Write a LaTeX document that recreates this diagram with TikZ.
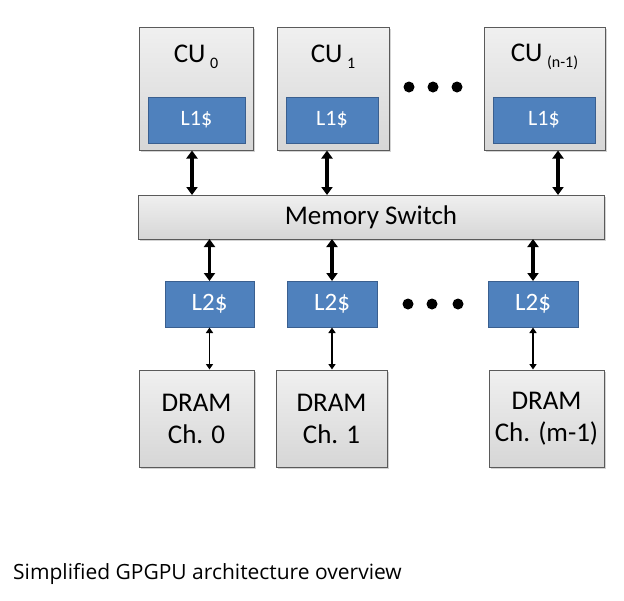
\documentclass[tikz,border=0pt]{standalone}
\usepackage{fontspec}
\setmainfont{Carlito}
\newfontfamily\capfont{Open Sans}
\usetikzlibrary{arrows.meta,shadows}
\definecolor{boxedge}{HTML}{5A5A5A}
\definecolor{blfill}{HTML}{4F81BD}
\definecolor{bledge}{HTML}{3A5F8F}
\tikzset{
  graybox/.style={draw=boxedge, line width=1pt, top color=gray!12, bottom color=gray!32,
    drop shadow={opacity=0.35, shadow xshift=1.5pt, shadow yshift=-1.5pt}, inner sep=0pt},
  bluebox/.style={draw=bledge, line width=1pt, fill=blfill, text=white, inner sep=0pt,
    font=\fontsize{22}{24}\selectfont,
    drop shadow={opacity=0.3, shadow xshift=1pt, shadow yshift=-1pt}},
  lbl/.style={inner sep=0pt, font=\fontsize{27}{30}\selectfont},
  bigarrow/.style={line width=3.2pt, {Triangle[length=8pt,width=11pt]}-{Triangle[length=8pt,width=11pt]}, shorten <=-0.5pt, shorten >=-0.5pt},
  thinarrow/.style={line width=1.6pt, {Triangle[length=5.5pt,width=7pt]}-{Triangle[length=5.5pt,width=7pt]}},
  dot/.style={circle, fill=black, inner sep=0pt, minimum size=11pt}
}
\begin{document}
\begin{tikzpicture}[x=1pt,y=-1pt]
\useasboundingbox (0,0) rectangle (624,600);
% CU boxes
\node[graybox, minimum width=114pt, minimum height=123pt] (cu0) at (196,89) {};
\node[graybox, minimum width=112pt, minimum height=123pt] (cu1) at (333,89) {};
\node[graybox, minimum width=121pt, minimum height=123pt] (cun) at (544.5,89) {};
\node[lbl] (cu0t) at (196,57) {CU\,\raisebox{-0.45ex}{\fontsize{16}{18}\selectfont 0}};
\node[lbl] (cu1t) at (333,57) {CU\,\raisebox{-0.45ex}{\fontsize{16}{18}\selectfont 1}};
\node[lbl] (cunt) at (544.5,57) {CU\,\raisebox{-0.45ex}{\fontsize{16}{18}\selectfont (n-1)}};
\node[bluebox, minimum width=97pt, minimum height=46pt] (l1a) at (196.5,120) {L1\$};
\node[bluebox, minimum width=92pt, minimum height=46pt] (l1b) at (332,120) {L1\$};
\node[bluebox, minimum width=102pt, minimum height=46pt] (l1c) at (544,120) {L1\$};
\node[dot] (d1) at (409,87) {};
\node[dot] (d2) at (433,87) {};
\node[dot] (d3) at (457,87) {};
% switch
\node[graybox, minimum width=466pt, minimum height=44pt, lbl] (sw) at (371,217) {Memory Switch};
% L2
\node[bluebox, minimum width=89pt, minimum height=46pt, font=\fontsize{25}{28}\selectfont] (l2a) at (209.5,304) {L2\$};
\node[bluebox, minimum width=90pt, minimum height=46pt, font=\fontsize{25}{28}\selectfont] (l2b) at (332,304) {L2\$};
\node[bluebox, minimum width=90pt, minimum height=46pt, font=\fontsize{25}{28}\selectfont] (l2c) at (533,304) {L2\$};
\node[dot] (e1) at (408,304) {};
\node[dot] (e2) at (432,304) {};
\node[dot] (e3) at (458,304) {};
% DRAM
\node[graybox, minimum width=115pt, minimum height=97pt, lbl, align=center, font=\fontsize{27}{32}\selectfont] (dr0) at (196.5,418.5) {DRAM\\Ch. 0};
\node[graybox, minimum width=111pt, minimum height=97pt, lbl, align=center, font=\fontsize{27}{32}\selectfont] (dr1) at (331.5,418.5) {DRAM\\Ch. 1};
\node[graybox, minimum width=115pt, minimum height=97pt, lbl, align=center, font=\fontsize{27}{32}\selectfont] (drn) at (546.5,418.5) {DRAM\\Ch. (m-1)};
% arrows
\draw[bigarrow] (cu0.south -| 192,0) -- (sw.north -| 192,0);
\draw[bigarrow] (cu1.south -| 327,0) -- (sw.north -| 327,0);
\draw[bigarrow] (cun.south -| 558,0) -- (sw.north -| 558,0);
\draw[bigarrow] (sw.south -| l2a.north) -- (l2a.north);
\draw[bigarrow] (sw.south -| l2b.north) -- (l2b.north);
\draw[bigarrow] (sw.south -| l2c.north) -- (l2c.north);
\draw[thinarrow] (l2a.south) -- (l2a.south |- dr0.north);
\draw[thinarrow] (l2b.south) -- (l2b.south |- dr1.north);
\draw[thinarrow] (l2c.south) -- (l2c.south |- drn.north);
% caption
\node[anchor=base west, inner sep=0pt, font=\capfont\fontsize{21}{24}\selectfont] (cap) at (13,579) {Simplified GPGPU architecture overview};
\end{tikzpicture}
\end{document}
